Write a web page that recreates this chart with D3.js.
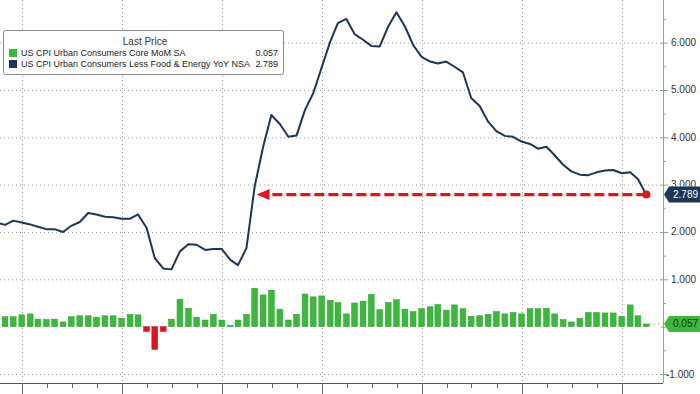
<!DOCTYPE html>
<html>
<head>
<meta charset="utf-8">
<script src="https://cdn.jsdelivr.net/npm/d3@7"></script>
<style>
  body { margin: 0; background: #fff; }
  svg { display: block; font-family: "Liberation Sans", Arial, sans-serif; }
</style>
</head>
<body>
<svg id="chart" width="700" height="394"></svg>
<script>
// monthly observations, Sep 2018 .. Mar 2025 (plotted at month end)
const firstMonth = new Date(2018, 8, 1);
const lastMonth = new Date(2025, 2, 1);

// US CPI Urban Consumers Less Food & Energy YoY NSA
const coreYoY = [
  2.20, 2.15, 2.24, 2.20,                                               // 2018 Sep-Dec
  2.16, 2.11, 2.06, 2.06, 2.00, 2.13, 2.21, 2.40, 2.37, 2.32, 2.31, 2.28, // 2019
  2.28, 2.37, 2.09, 1.45, 1.23, 1.21, 1.59, 1.74, 1.73, 1.62, 1.64, 1.64, // 2020
  1.41, 1.30, 1.66, 2.96, 3.80, 4.47, 4.28, 4.01, 4.04, 4.58, 4.93, 5.48, // 2021
  6.02, 6.41, 6.50, 6.18, 6.06, 5.93, 5.92, 6.34, 6.64, 6.34, 5.95, 5.70, // 2022
  5.60, 5.56, 5.60, 5.49, 5.37, 4.83, 4.66, 4.33, 4.13, 4.03, 4.01, 3.91, // 2023
  3.86, 3.76, 3.80, 3.62, 3.42, 3.28, 3.21, 3.20, 3.26, 3.30, 3.31, 3.24, // 2024
  3.26, 3.12, 2.789                                                     // 2025 Jan-Mar
];

// US CPI Urban Consumers Core MoM SA
const coreMoM = [
  0.12, 0.21, 0.21, 0.25,
  0.27, 0.16, 0.15, 0.16, 0.10, 0.21, 0.23, 0.23, 0.20, 0.23, 0.23, 0.18,
  0.26, 0.25, -0.10, -0.48, -0.10, 0.16, 0.58, 0.39, 0.20, 0.14, 0.26, 0.14,
  0.03, 0.14, 0.26, 0.81, 0.67, 0.77, 0.37, 0.14, 0.26, 0.69, 0.63, 0.65,
  0.56, 0.51, 0.27, 0.50, 0.54, 0.68, 0.36, 0.51, 0.57, 0.37, 0.32, 0.38,
  0.42, 0.47, 0.35, 0.46, 0.38, 0.22, 0.23, 0.26, 0.32, 0.27, 0.30, 0.27,
  0.38, 0.38, 0.39, 0.27, 0.15, 0.10, 0.18, 0.30, 0.30, 0.29, 0.29, 0.22,
  0.46, 0.23, 0.057
];

const yTicks = [-1, 1, 2, 3, 4, 5, 6];
const yTickLabels = ["-1.000", "1.000", "2.000", "3.000", "4.000", "5.000", "6.000"];
const legendTitle = "Last Price";
const seriesNames = ["US CPI Urban Consumers Core MoM SA", "US CPI Urban Consumers Less Food & Energy YoY NSA"];

const NAVY = "#1d3557", GREEN = "#3cb83c", RED = "#e0141b";

const W = 700, H = 394, plotRight = 663, plotBottom = 383;

const months = d3.timeMonth.range(firstMonth, d3.timeMonth.offset(lastMonth, 1))
  .map(d => d3.timeDay.offset(d3.timeMonth.offset(d, 1), -1));
const data = months.map((d, i) => ({ date: d, yoy: coreYoY[i], mom: coreMoM[i] }));

const x = d3.scaleTime()
  .domain([new Date(2019, 0, 1), new Date(2025, 0, 1)])
  .range([22, 622]);
const y = d3.scaleLinear().domain([-1.19, 6.9]).range([plotBottom, 0]);

const svg = d3.select("#chart");

svg.append("defs").append("clipPath").attr("id", "plot")
  .append("rect").attr("x", 0).attr("y", 0).attr("width", plotRight).attr("height", plotBottom);

// dotted grid
const years = d3.timeYear.range(new Date(2019, 0, 1), new Date(2025, 0, 2));
const grid = svg.append("g").attr("stroke", "#9a9a9a").attr("stroke-dasharray", "1,3");
grid.selectAll(".h").data(yTicks).join("line")
  .attr("x1", 0).attr("x2", plotRight)
  .attr("y1", d => y(d) + 0.5).attr("y2", d => y(d) + 0.5);
grid.selectAll(".v").data(years).join("line")
  .attr("x1", d => Math.round(x(d)) + 0.5).attr("x2", d => Math.round(x(d)) + 0.5)
  .attr("y1", 0).attr("y2", plotBottom);

const plot = svg.append("g").attr("clip-path", "url(#plot)");

// bars
const bw = 5.8;
plot.append("g").selectAll("rect").data(data).join("rect")
  .attr("x", d => x(d.date) - bw / 2)
  .attr("width", bw)
  .attr("y", d => y(Math.max(0, d.mom)))
  .attr("height", d => Math.abs(y(d.mom) - y(0)))
  .attr("fill", d => d.mom < 0 ? RED : GREEN)
  .attr("stroke", d => d.mom < 0 ? "#b00f14" : "#2f9a2f")
  .attr("stroke-width", 0.5);

// leader for last bar value
const last = data[data.length - 1];
svg.append("line")
  .attr("x1", x(last.date) + 4).attr("x2", plotRight)
  .attr("y1", y(last.mom)).attr("y2", y(last.mom))
  .attr("stroke", "#3cb83c").attr("stroke-dasharray", "1,3");

// yoy line
plot.append("path").datum(data)
  .attr("fill", "none")
  .attr("stroke", NAVY)
  .attr("stroke-width", 2)
  .attr("stroke-linejoin", "round")
  .attr("d", d3.line().x(d => x(d.date)).y(d => y(d.yoy)));

// red dashed arrow back to where the line first reached the latest level
let tipX = x(data[0].date);
for (let i = 0; i < data.length - 1; i++) {
  const a = data[i], b = data[i + 1];
  if (a.yoy < last.yoy && b.yoy >= last.yoy) {
    const t = (last.yoy - a.yoy) / (b.yoy - a.yoy);
    tipX = x(a.date) + t * (x(b.date) - x(a.date)) + 3;
    break;
  }
}
const ay = y(last.yoy);
svg.append("line")
  .attr("x1", x(last.date)).attr("x2", tipX + 10)
  .attr("y1", ay).attr("y2", ay)
  .attr("stroke", RED).attr("stroke-width", 3.2)
  .attr("stroke-dasharray", "10,4");
svg.append("path")
  .attr("d", `M${tipX},${ay} L${tipX + 13},${ay - 5.5} L${tipX + 13},${ay + 5.5} Z`)
  .attr("fill", RED);
svg.append("circle").attr("cx", x(last.date)).attr("cy", ay).attr("r", 4).attr("fill", RED);

// bottom axis
const quarters = d3.timeMonth.every(3).range(new Date(2018, 9, 1), new Date(2025, 3, 1));
svg.append("line").attr("x1", 0).attr("x2", plotRight)
  .attr("y1", plotBottom + 0.5).attr("y2", plotBottom + 0.5).attr("stroke", "#555");
svg.append("g").selectAll("line").data(quarters).join("line")
  .attr("x1", d => Math.round(x(d)) + 0.5).attr("x2", d => Math.round(x(d)) + 0.5)
  .attr("y1", plotBottom)
  .attr("y2", d => d.getMonth() === 0 ? H : plotBottom + 5)
  .attr("stroke", "#666");

// right axis
const axisG = svg.append("g").attr("transform", `translate(${plotRight},0)`);
axisG.append("line").attr("x1", 0.5).attr("x2", 0.5).attr("y1", 0).attr("y2", plotBottom)
  .attr("stroke", "#6cbf6c");
const halfTicks = d3.range(-1, 7.0001, 0.5);
axisG.selectAll(".t").data(halfTicks).join("line")
  .attr("x1", d => Number.isInteger(d) ? -2 : 0)
  .attr("x2", d => Number.isInteger(d) ? 5 : 3)
  .attr("y1", d => y(d) + 0.5).attr("y2", d => y(d) + 0.5)
  .attr("stroke", "#6cbf6c");
axisG.selectAll("text").data(yTicks).join("text")
  .attr("x", d => d < 0 ? 3 : 8)
  .attr("y", d => y(d))
  .attr("dy", "0.35em")
  .attr("font-size", 10)
  .attr("fill", "#333")
  .text((d, i) => yTickLabels[i]);

// last value tags
function tag(value, fill, textColor, text) {
  const cy = y(value), h = 16, left = plotRight + 1;
  svg.append("path")
    .attr("d", `M${left},${cy} L${left + 5},${cy - h / 2} L${W},${cy - h / 2} L${W},${cy + h / 2} L${left + 5},${cy + h / 2} Z`)
    .attr("fill", fill);
  svg.append("text").attr("x", left + 9).attr("y", cy).attr("dy", "0.35em")
    .attr("font-size", 10).attr("fill", textColor).text(text);
}
tag(last.yoy, NAVY, "#fff", last.yoy.toFixed(3));
tag(last.mom, GREEN, "#0d2b0d", last.mom.toFixed(3));

// legend
const lg = svg.append("g").attr("transform", "translate(3,30)");
lg.append("rect").attr("x", 0.5).attr("y", 0.5).attr("width", 280).attr("height", 44)
  .attr("rx", 2).attr("fill", "#fff").attr("stroke", "#8a8a8a");
lg.append("text").attr("x", 142).attr("y", 15).attr("text-anchor", "middle")
  .attr("font-size", 10).attr("fill", "#333").text(legendTitle);
const rows = [
  { name: seriesNames[0], color: GREEN, value: last.mom },
  { name: seriesNames[1], color: NAVY, value: last.yoy }
];
rows.forEach((r, i) => {
  const ry = 26 + i * 11;
  lg.append("rect").attr("x", 6).attr("y", ry - 7).attr("width", 8).attr("height", 8).attr("fill", r.color);
  lg.append("text").attr("x", 18).attr("y", ry).attr("font-size", 9).attr("fill", "#222").text(r.name);
  lg.append("text").attr("x", 275).attr("y", ry).attr("text-anchor", "end")
    .attr("font-size", 9).attr("fill", "#222").text(r.value.toFixed(3));
});
</script>
</body>
</html>
